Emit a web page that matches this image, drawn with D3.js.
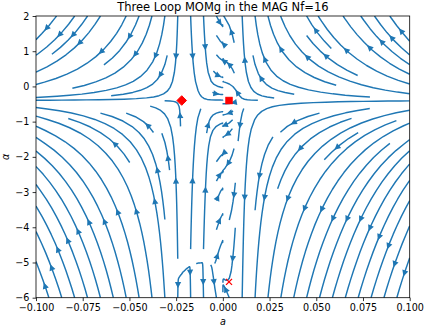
<!DOCTYPE html>
<html>
<head>
<meta charset="utf-8">
<script src="https://cdn.jsdelivr.net/npm/d3@7"></script>
<style>
  body { margin: 0; background: #fff; }
  svg { display: block; font-family: "DejaVu Sans", sans-serif; }
</style>
</head>
<body>
<svg id="chart" width="425" height="327"></svg>
<script>
const title = "Three Loop MOMg in the MAG Nf=16";
const aTicks = [-0.1, -0.075, -0.05, -0.025, 0, 0.025, 0.05, 0.075, 0.1];
const alphaTicks = [2, 1, 0, -1, -2, -3, -4, -5, -6];

// fixed points marked on the plot
const fixedA = [-0.022, 0.0033, 0.0033];
const fixedAlpha = [-0.4, -0.4, -5.55];
const fixedMarker = ["diamond", "square", "cross"];

// shape of the flow: zeros of the coupling flow, zero of the gauge flow,
// gains left/right of a=0, pull onto the line a=0, and the pocket near the
// bottom where the gauge flow turns round
const couplingZeros = [0.0033, -0.022];
const gaugeZero = -0.4;
const couplingGain = [0.045, 0.027];
const zeroLinePull = [0.035, 0.0045];   // strength, half width
const pocketCentre = [-0.011, -6.2];
const pocketRadius = [0.0165, 1.2];

const aRange = [-0.1, 0.1];
const alphaRange = [-6, 2];

function flow(a, al) {
    const k = a < 0 ? couplingGain[0] : couplingGain[1];
    const s = 0.035;
    let da = -k * (a - couplingZeros[0]) * (a - couplingZeros[1]) * a * a / (Math.abs(a) ** 3 + s ** 3);
    da -= zeroLinePull[0] * a * Math.exp(-((a / zeroLinePull[1]) ** 2));
    const e = ((a - pocketCentre[0]) / pocketRadius[0]) ** 2 + ((al - pocketCentre[1]) / pocketRadius[1]) ** 2 - 1;
    const dal = a * (al - gaugeZero) * Math.tanh(3 * e);
    return [da, dal];
}

const svg = d3.select("#chart");
const pL = 36, pR = 409.7, pT = 16, pB = 297.7;
const x = d3.scaleLinear().domain(aRange).range([pL, pR]);
const y = d3.scaleLinear().domain(alphaRange).range([pB, pT]);

// ---- streamplot, same walk as matplotlib's (density 1) ----
const NX = 100, NY = 100, NM = 30;
const gx = d3.range(NX).map(i => aRange[0] + (aRange[1] - aRange[0]) * i / (NX - 1));
const gy = d3.range(NY).map(j => alphaRange[0] + (alphaRange[1] - alphaRange[0]) * j / (NY - 1));
const ddx = gx[1] - gx[0], ddy = gy[1] - gy[0];
const U = [], V = [], SP = [];
gy.forEach((al, j) => {
    U.push([]); V.push([]); SP.push([]);
    gx.forEach((a, i) => {
        const f = flow(a, al);
        const u = f[0] / ddx, v = f[1] / ddy;
        U[j].push(u); V[j].push(v);
        SP[j].push(Math.hypot(u / (NX - 1), v / (NY - 1)));
    });
});

function interp(arr, xi, yi) {
    const xx = Math.floor(xi), yy = Math.floor(yi);
    const xn = xx === NX - 1 ? xx : xx + 1;
    const yn = yy === NY - 1 ? yy : yy + 1;
    const xt = xi - xx, yt = yi - yy;
    const a0 = arr[yy][xx] * (1 - xt) + arr[yy][xn] * xt;
    const a1 = arr[yn][xx] * (1 - xt) + arr[yn][xn] * xt;
    return a0 * (1 - yt) + a1 * yt;
}

const OOB = "oob", TERM = "term", BADIDX = "badidx";
const within = (xi, yi) => xi >= 0 && xi <= NX - 1 && yi >= 0 && yi <= NY - 1;
const g2m = (xi, yi) => [Math.round(xi * (NM - 1) / (NX - 1)), Math.round(yi * (NM - 1) / (NY - 1))];
const mask = new Uint8Array(NM * NM);
let cur = null, trajCells = [];

function updateTraj(xi, yi) {
    if (!within(xi, yi)) throw BADIDX;
    const [xm, ym] = g2m(xi, yi);
    if (!cur || cur[0] !== xm || cur[1] !== ym) {
        if (mask[ym * NM + xm] === 0) {
            trajCells.push(ym * NM + xm);
            mask[ym * NM + xm] = 1;
            cur = [xm, ym];
        } else throw BADIDX;
    }
}

function forward(xi, yi) {
    if (!within(xi, yi)) throw OOB;
    const s = interp(SP, xi, yi);
    if (s === 0) throw TERM;
    return [interp(U, xi, yi) / s, interp(V, xi, yi) / s];
}
function backward(xi, yi) {
    const f = forward(xi, yi);
    return [-f[0], -f[1]];
}

function eulerStep(traj, f) {
    const [xi, yi] = traj[traj.length - 1];
    const [cx, cy] = f(xi, yi);
    const dsx = cx === 0 ? Infinity : (cx < 0 ? xi / -cx : (NX - 1 - xi) / cx);
    const dsy = cy === 0 ? Infinity : (cy < 0 ? yi / -cy : (NY - 1 - yi) / cy);
    const ds = Math.min(dsx, dsy);
    traj.push([xi + cx * ds, yi + cy * ds]);
    return ds;
}

function rk12(x0, y0, f) {
    const maxerror = 0.003, maxds = Math.min(1 / NM, 0.1), maxlength = 4.0;
    let ds = maxds, stotal = 0, xi = x0, yi = y0, guard = 0;
    const traj = [];
    while (guard++ < 20000) {
        let k1, k2;
        try {
            if (within(xi, yi)) traj.push([xi, yi]); else throw OOB;
            k1 = f(xi, yi);
            k2 = f(xi + ds * k1[0], yi + ds * k1[1]);
        } catch (err) {
            if (err === OOB && traj.length) stotal += eulerStep(traj, f);
            break;
        }
        const dx1 = ds * k1[0], dy1 = ds * k1[1];
        const dx2 = ds * 0.5 * (k1[0] + k2[0]), dy2 = ds * 0.5 * (k1[1] + k2[1]);
        const error = Math.hypot((dx2 - dx1) / (NX - 1), (dy2 - dy1) / (NY - 1));
        if (error < maxerror) {
            xi += dx2; yi += dy2;
            try { updateTraj(xi, yi); } catch (err) { break; }
            if (stotal + ds > maxlength) break;
            stotal += ds;
        }
        ds = error === 0 ? maxds : Math.min(maxds, 0.85 * ds * Math.sqrt(maxerror / error));
    }
    return [stotal, traj];
}

function integrate(x0, y0) {
    trajCells = [];
    try { updateTraj(x0, y0); } catch (err) { return null; }
    let stotal = 0, xy = [];
    let [s, t] = rk12(x0, y0, backward);
    stotal += s; xy = xy.concat(t.reverse());
    cur = g2m(x0, y0);
    [s, t] = rk12(x0, y0, forward);
    stotal += s; xy = xy.concat(t.slice(1));
    if (stotal > 0.1) return xy;
    trajCells.forEach(c => mask[c] = 0);
    return null;
}

function* startPoints() {
    let xfirst = 0, yfirst = 1, xlast = NM - 1, ylast = NM - 1, xm = 0, ym = 0, dir = "right";
    for (let i = 0; i < NM * NM; i++) {
        yield [xm, ym];
        if (dir === "right") { xm++; if (xm >= xlast) { xlast--; dir = "up"; } }
        else if (dir === "up") { ym++; if (ym >= ylast) { ylast--; dir = "left"; } }
        else if (dir === "left") { xm--; if (xm <= xfirst) { xfirst++; dir = "down"; } }
        else { ym--; if (ym <= yfirst) { yfirst++; dir = "right"; } }
    }
}

const trajectories = [];
for (const [xm, ym] of startPoints()) {
    if (mask[ym * NM + xm] === 0) {
        const t = integrate(xm * (NX - 1) / (NM - 1), ym * (NY - 1) / (NM - 1));
        if (t) trajectories.push(t.map(p => [aRange[0] + p[0] * ddx, alphaRange[0] + p[1] * ddy]));
    }
}

// ---- drawing ----
svg.append("defs").append("clipPath").attr("id", "plotclip")
    .append("rect").attr("x", pL).attr("y", pT).attr("width", pR - pL).attr("height", pB - pT);

const plot = svg.append("g").attr("clip-path", "url(#plotclip)");
const line = d3.line().x(d => x(d[0])).y(d => y(d[1]));
const blue = "#1f77b4";

plot.selectAll("path.stream").data(trajectories).enter().append("path")
    .attr("class", "stream").attr("d", line)
    .attr("fill", "none").attr("stroke", blue).attr("stroke-width", 1.45)
    .attr("stroke-linejoin", "round");

// arrows half way along each streamline (arc length in data units, as matplotlib does)
const arrows = trajectories.map(t => {
    const s = [];
    let acc = 0;
    for (let i = 1; i < t.length; i++) { acc += Math.hypot(t[i][0] - t[i - 1][0], t[i][1] - t[i - 1][1]); s.push(acc); }
    const half = acc / 2;
    let n = s.findIndex(v => v >= half);
    if (n < 0) n = s.length;
    const tail = t[n];
    const nxt = t[Math.min(n + 1, t.length - 1)];
    const head = [(tail[0] + nxt[0]) / 2, (tail[1] + nxt[1]) / 2];
    return { tail, head };
}).filter(d => d.head[0] !== d.tail[0] || d.head[1] !== d.tail[1]);

plot.selectAll("path.arrow").data(arrows).enter().append("path")
    .attr("class", "arrow")
    .attr("d", d => {
        const hx = x(d.head[0]), hy = y(d.head[1]);
        let ux = hx - x(d.tail[0]), uy = hy - y(d.tail[1]);
        const L = Math.hypot(ux, uy); ux /= L; uy /= L;
        const len = 3.9, hw = 1.95;
        const bx = hx - ux * len, by = hy - uy * len;
        return `M${hx},${hy}L${bx - uy * hw},${by + ux * hw}L${bx + uy * hw},${by - ux * hw}Z`;
    })
    .attr("fill", blue).attr("stroke", blue).attr("stroke-width", 1.45).attr("stroke-linejoin", "miter");

// fixed points
const fp = fixedA.map((a, i) => ({ a, al: fixedAlpha[i], m: fixedMarker[i] }));
const markers = svg.append("g");
fp.forEach(d => {
    const px = x(d.a), py = y(d.al);
    if (d.m === "diamond") {
        markers.append("path").attr("d", `M${px},${py - 4.8}L${px + 4.8},${py}L${px},${py + 4.8}L${px - 4.8},${py}Z`)
            .attr("fill", "red").attr("stroke", "red").attr("stroke-width", 1);
    } else if (d.m === "square") {
        markers.append("rect").attr("x", px - 3.2).attr("y", py - 3.2).attr("width", 6.4).attr("height", 6.4)
            .attr("fill", "red").attr("stroke", "red").attr("stroke-width", 1);
    } else {
        markers.append("path").attr("d", `M${px - 3},${py - 3}L${px + 3},${py + 3}M${px - 3},${py + 3}L${px + 3},${py - 3}`)
            .attr("stroke", "red").attr("stroke-width", 1.3).attr("fill", "none");
    }
});

// axes
const fmtA = v => (v < 0 ? "\u2212" : "") + Math.abs(v).toFixed(3);
const fmtAl = v => (v < 0 ? "\u2212" : "") + Math.abs(v);

const xAxis = svg.append("g").attr("transform", `translate(0,${pB})`)
    .call(d3.axisBottom(x).tickValues(aTicks).tickFormat(fmtA).tickSize(3.4).tickPadding(3.2));
const yAxis = svg.append("g").attr("transform", `translate(${pL},0)`)
    .call(d3.axisLeft(y).tickValues(alphaTicks).tickFormat(fmtAl).tickSize(3.4).tickPadding(3.2));
[xAxis, yAxis].forEach(g => {
    g.select(".domain").remove();
    g.selectAll("line").attr("stroke", "#000").attr("stroke-width", 0.8);
    g.selectAll("text").attr("fill", "#000").attr("font-size", 9.6).attr("font-family", "DejaVu Sans");
});

svg.append("rect").attr("x", pL).attr("y", pT).attr("width", pR - pL).attr("height", pB - pT)
    .attr("fill", "none").attr("stroke", "#000").attr("stroke-width", 0.8);

svg.append("text").attr("x", (pL + pR) / 2).attr("y", 10.5).attr("text-anchor", "middle")
    .attr("font-size", 11.5).attr("fill", "#000").text(title);
svg.append("text").attr("x", (pL + pR) / 2).attr("y", 324.5).attr("text-anchor", "middle")
    .attr("font-size", 9.6).attr("font-style", "italic").attr("fill", "#000").text("a");
svg.append("text").attr("transform", `translate(9,${(pT + pB) / 2}) rotate(-90)`).attr("text-anchor", "middle")
    .attr("font-size", 9.6).attr("font-style", "italic").attr("fill", "#000").text("α");
</script>
</body>
</html>
